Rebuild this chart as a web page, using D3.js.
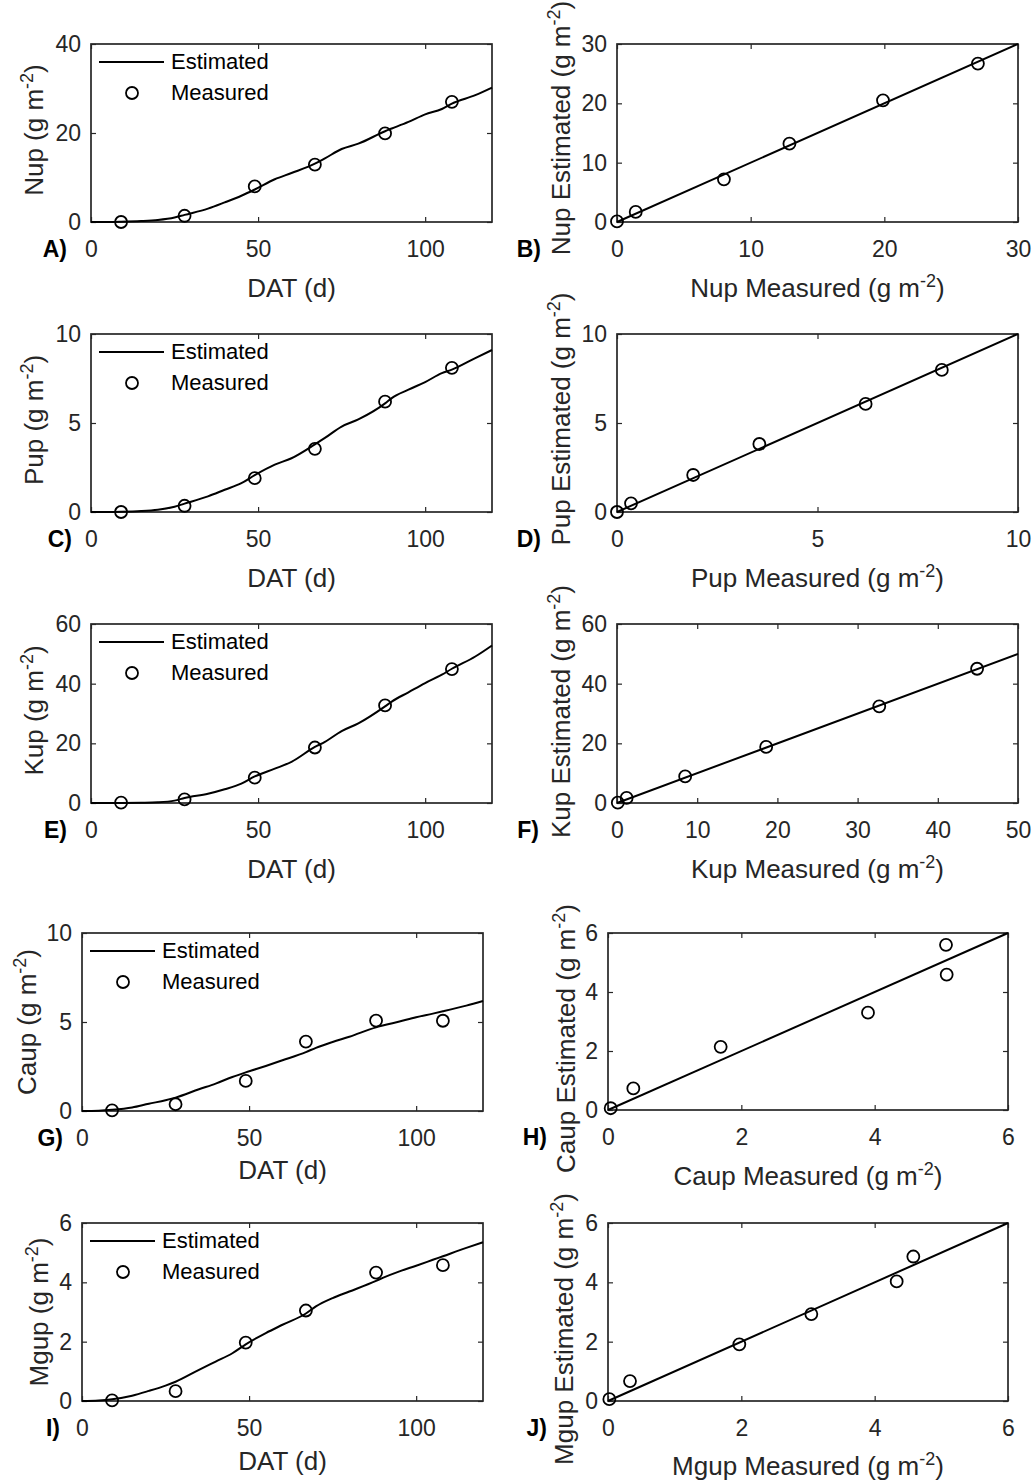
<!DOCTYPE html>
<html>
<head>
<meta charset="utf-8">
<script src="https://cdn.jsdelivr.net/npm/d3@7"></script>
<style>
  body { margin: 0; background: #fff; }
  svg { display: block; }
</style>
</head>
<body>
<svg width="1035" height="1481"></svg>
<script>
// sampling days (DAT) of the measurements
let days = [9, 28, 49, 67, 88, 108];

// days at which the simulated curves were read
let simDays = [0, 5, 9, 15, 20, 25, 28, 35, 40, 45, 49, 55, 60, 67, 70, 75, 80, 88, 90, 95, 100, 105, 108, 115, 120];

// simulated uptake (g m-2)
let nupSim = [0, 0, 0.05, 0.2, 0.45, 1.0, 1.6, 3.0, 4.4, 5.9, 7.3, 9.6, 11.0, 13.1, 14.3, 16.4, 17.6, 20.4, 21.0, 22.5, 24.2, 25.4, 26.6, 28.5, 30.2];
let pupSim = [0, 0, 0.01, 0.05, 0.13, 0.3, 0.47, 0.88, 1.25, 1.62, 2.07, 2.66, 3.02, 3.8, 4.16, 4.8, 5.2, 6.1, 6.4, 6.87, 7.3, 7.8, 8.0, 8.65, 9.1];
let kupSim = [0, 0, 0.02, 0.1, 0.25, 0.8, 1.7, 3.1, 4.6, 6.5, 8.9, 11.5, 13.8, 18.8, 20.5, 24.1, 26.7, 32.4, 34.0, 37.1, 40.2, 43.0, 45.0, 49.1, 52.8];
let caupSim = [0, 0.02, 0.07, 0.2, 0.41, 0.6, 0.75, 1.22, 1.54, 1.91, 2.17, 2.53, 2.85, 3.31, 3.55, 3.88, 4.17, 4.7, 4.8, 5.03, 5.27, 5.47, 5.6, 5.92, 6.18];
let mgupSim = [0, 0.02, 0.06, 0.18, 0.34, 0.52, 0.65, 1.05, 1.33, 1.61, 1.91, 2.29, 2.57, 2.95, 3.19, 3.47, 3.69, 4.05, 4.15, 4.37, 4.56, 4.76, 4.88, 5.16, 5.35];

// measured uptake and the estimate on the same day (g m-2)
let nupMeasured = [0.0, 1.4, 8.0, 12.9, 19.9, 27.0];
let nupEstimated = [0.1, 1.7, 7.2, 13.2, 20.5, 26.7];
let pupMeasured = [0.0, 0.35, 1.9, 3.55, 6.2, 8.1];
let pupEstimated = [0.0, 0.49, 2.08, 3.82, 6.07, 7.98];
let kupMeasured = [0.1, 1.2, 8.5, 18.6, 32.7, 44.9];
let kupEstimated = [0.1, 1.7, 8.9, 18.8, 32.4, 45.0];
let caupMeasured = [0.04, 0.38, 1.69, 3.9, 5.08, 5.07];
let caupEstimated = [0.06, 0.73, 2.14, 3.3, 4.59, 5.6];
let mgupMeasured = [0.02, 0.33, 1.97, 3.05, 4.33, 4.58];
let mgupEstimated = [0.06, 0.67, 1.91, 2.93, 4.03, 4.87];

// tick labels
let dayTicks = [0, 50, 100];
let nupTicks = [0, 20, 40];
let nupFitTicks = [0, 10, 20, 30];
let pupTicks = [0, 5, 10];
let kupTicks = [0, 20, 40, 60];
let kupFitTicks = [0, 10, 20, 30, 40, 50];
let caupTicks = [0, 5, 10];
let smallTicks = [0, 2, 4, 6];

let font = '"Liberation Sans", Arial, Helvetica, sans-serif';
let ink = '#262626';

// box = [left, top, right, bottom]; ylab = [baseline offset from box left, shift of centre]
let panels = [
  {tag: 'A)', kind: 'time', name: 'Nup', sim: nupSim, meas: nupMeasured, xDomain: [0, 120], yDomain: [0, 40], xTicks: dayTicks, yTicks: nupTicks, box: [91, 44, 492, 222], tagX: 67, xlabDy: 75, ylab: [-48, -3]},
  {tag: 'B)', kind: 'fit', name: 'Nup', meas: nupMeasured, est: nupEstimated, xDomain: [0, 30], yDomain: [0, 30], xTicks: nupFitTicks, yTicks: nupFitTicks, box: [617, 44, 1018, 222], tagX: 541, xlabDy: 75, ylab: [-47, -5]},
  {tag: 'C)', kind: 'time', name: 'Pup', sim: pupSim, meas: pupMeasured, xDomain: [0, 120], yDomain: [0, 10], xTicks: dayTicks, yTicks: pupTicks, box: [91, 334, 492, 512], tagX: 72, xlabDy: 75, ylab: [-48, -3]},
  {tag: 'D)', kind: 'fit', name: 'Pup', meas: pupMeasured, est: pupEstimated, xDomain: [0, 10], yDomain: [0, 10], xTicks: pupTicks, yTicks: pupTicks, box: [617, 334, 1018, 512], tagX: 541, xlabDy: 75, ylab: [-47, -4]},
  {tag: 'E)', kind: 'time', name: 'Kup', sim: kupSim, meas: kupMeasured, xDomain: [0, 120], yDomain: [0, 60], xTicks: dayTicks, yTicks: kupTicks, box: [91, 624, 492, 803], tagX: 67, xlabDy: 75, ylab: [-48, -3]},
  {tag: 'F)', kind: 'fit', name: 'Kup', meas: kupMeasured, est: kupEstimated, xDomain: [0, 50], yDomain: [0, 60], xTicks: kupFitTicks, yTicks: kupTicks, box: [617, 624, 1018, 803], tagX: 539, xlabDy: 75, ylab: [-47, -2]},
  {tag: 'G)', kind: 'time', name: 'Caup', sim: caupSim, meas: caupMeasured, xDomain: [0, 120], yDomain: [0, 10], xTicks: dayTicks, yTicks: caupTicks, box: [82, 933, 483, 1111], tagX: 63, xlabDy: 68, ylab: [-46, 0]},
  {tag: 'H)', kind: 'fit', name: 'Caup', meas: caupMeasured, est: caupEstimated, xDomain: [0, 6], yDomain: [0, 6], xTicks: smallTicks, yTicks: smallTicks, box: [608, 933, 1008, 1110], tagX: 547, xlabDy: 75, ylab: [-33, 17]},
  {tag: 'I)', kind: 'time', name: 'Mgup', sim: mgupSim, meas: mgupMeasured, xDomain: [0, 120], yDomain: [0, 6], xTicks: dayTicks, yTicks: smallTicks, box: [82, 1223, 483, 1401], tagX: 60, xlabDy: 69, ylab: [-34, 0]},
  {tag: 'J)', kind: 'fit', name: 'Mgup', meas: mgupMeasured, est: mgupEstimated, xDomain: [0, 6], yDomain: [0, 6], xTicks: smallTicks, yTicks: smallTicks, box: [608, 1223, 1008, 1401], tagX: 547, xlabDy: 74, ylab: [-35, 17]}
];

// "Xup ... (g m-2)" with a raised -2
function unitLabel(text, main) {
  text.append('tspan').text(main + ' (g m');
  text.append('tspan').attr('font-size', 18).attr('dy', -10).text('-2');
  text.append('tspan').attr('dy', 10).text(')');
}

function plain(d) { return String(d); }

function drawPanel(svg, p) {
  let width = p.box[2] - p.box[0];
  let height = p.box[3] - p.box[1];
  let g = svg.append('g').attr('transform', 'translate(' + p.box[0] + ',' + p.box[1] + ')');
  let x = d3.scaleLinear().domain(p.xDomain).range([0, width]);
  let y = d3.scaleLinear().domain(p.yDomain).range([height, 0]);

  let axes = [
    g.append('g').attr('transform', 'translate(0,' + height + ')')
      .call(d3.axisBottom(x).tickValues(p.xTicks).tickFormat(plain).tickSizeInner(-5).tickSizeOuter(0).tickPadding(19)),
    g.append('g')
      .call(d3.axisLeft(y).tickValues(p.yTicks).tickFormat(plain).tickSizeInner(-5).tickSizeOuter(0).tickPadding(10)),
    g.append('g')
      .call(d3.axisTop(x).tickValues(p.xTicks).tickSizeInner(-5).tickSizeOuter(0).tickFormat('')),
    g.append('g').attr('transform', 'translate(' + width + ',0)')
      .call(d3.axisRight(y).tickValues(p.yTicks).tickSizeInner(-5).tickSizeOuter(0).tickFormat(''))
  ];
  axes.forEach(function(a) {
    a.attr('font-family', font).attr('font-size', 23);
    a.select('.domain').remove();
    a.selectAll('.tick line').attr('stroke', ink).attr('stroke-width', 1.2);
    a.selectAll('.tick text').attr('fill', ink);
  });

  g.append('rect')
    .attr('width', width)
    .attr('height', height)
    .attr('fill', 'none')
    .attr('stroke', ink)
    .attr('stroke-width', 1.7);

  let line = d3.line()
    .x(function(d) { return x(d[0]); })
    .y(function(d) { return y(d[1]); });

  let lineData, points;
  if (p.kind === 'time') {
    lineData = d3.zip(simDays, p.sim);
    points = d3.zip(days, p.meas);
    line.curve(d3.curveMonotoneX);
  } else {
    lineData = [[p.xDomain[0], p.xDomain[0]], [p.xDomain[1], p.xDomain[1]]];
    points = d3.zip(p.meas, p.est);
  }

  g.append('path')
    .datum(lineData)
    .attr('fill', 'none')
    .attr('stroke', '#000')
    .attr('stroke-width', 2)
    .attr('stroke-linejoin', 'round')
    .attr('d', line);

  g.selectAll('circle.pt')
    .data(points)
    .enter().append('circle')
    .attr('class', 'pt')
    .attr('cx', function(d) { return x(d[0]); })
    .attr('cy', function(d) { return y(d[1]); })
    .attr('r', 6)
    .attr('fill', 'none')
    .attr('stroke', '#000')
    .attr('stroke-width', 1.8);

  if (p.kind === 'time') {
    let lg = g.append('g').attr('font-family', font).attr('font-size', 22).attr('fill', '#000');
    lg.append('line')
      .attr('x1', 8).attr('x2', 73).attr('y1', 18).attr('y2', 18)
      .attr('stroke', '#000').attr('stroke-width', 2);
    lg.append('text').attr('x', 80).attr('y', 25).text('Estimated');
    lg.append('circle')
      .attr('cx', 41).attr('cy', 49).attr('r', 6)
      .attr('fill', 'none').attr('stroke', '#000').attr('stroke-width', 1.8);
    lg.append('text').attr('x', 80).attr('y', 56).text('Measured');
  }

  // axis titles
  let xl = g.append('text')
    .attr('x', width / 2)
    .attr('y', height + p.xlabDy)
    .attr('text-anchor', 'middle')
    .attr('font-family', font)
    .attr('font-size', 26)
    .attr('fill', ink);
  let yl = g.append('text')
    .attr('transform', 'translate(' + p.ylab[0] + ',' + (height / 2 + p.ylab[1]) + ') rotate(-90)')
    .attr('text-anchor', 'middle')
    .attr('font-family', font)
    .attr('font-size', 26)
    .attr('fill', ink);
  if (p.kind === 'time') {
    xl.text('DAT (d)');
    unitLabel(yl, p.name);
  } else {
    unitLabel(xl, p.name + ' Measured');
    unitLabel(yl, p.name + ' Estimated');
  }

  svg.append('text')
    .attr('x', p.tagX)
    .attr('y', p.box[3] + 35)
    .attr('text-anchor', 'end')
    .attr('font-family', font)
    .attr('font-weight', 'bold')
    .attr('font-size', 23)
    .attr('fill', '#000')
    .text(p.tag);
}

let svg = d3.select('svg');
svg.append('rect').attr('width', 1035).attr('height', 1481).attr('fill', '#fff');
panels.forEach(function(p) { drawPanel(svg, p); });
</script>
</body>
</html>
